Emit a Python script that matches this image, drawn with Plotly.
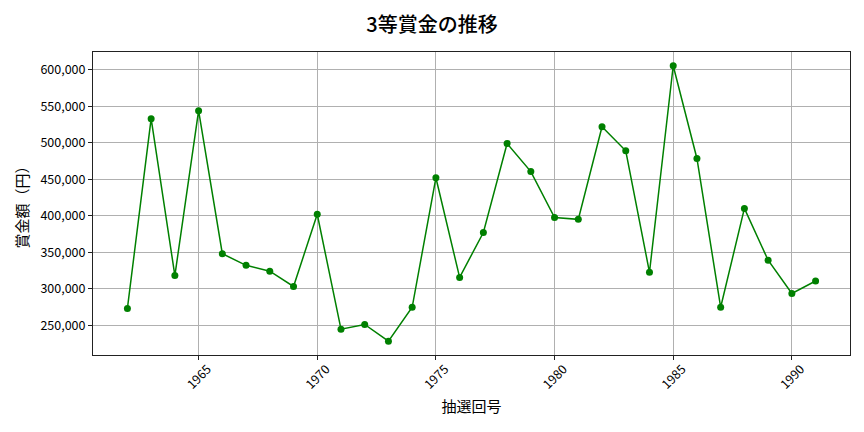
import plotly.graph_objects as go

draws = list(range(1962, 1992))
prize = [273000, 533000, 318000, 544000, 348000, 332000, 324000, 303000, 402000, 244500,
         251000, 228000, 274500, 452000, 315500, 377000, 499000, 460500, 397500, 395000,
         522000, 489000, 322500, 605500, 478500, 274500, 410000, 339000, 293500, 310500]

title = "3等賞金の推移"
xlabel = "抽選回号"
ylabel = "賞金額（円）"
x_ticks = [1965, 1970, 1975, 1980, 1985, 1990]
y_ticks = [250000, 300000, 350000, 400000, 450000, 500000, 550000, 600000]

font = "Noto Sans CJK JP"

fig = go.Figure(go.Scatter(
    x=draws, y=prize, mode="lines+markers",
    line=dict(color="#008000", width=1.5),
    marker=dict(color="#008000", size=7),
))

axis_common = dict(
    showline=True, linecolor="#222", linewidth=1, mirror=True,
    ticks="outside", ticklen=4, tickcolor="#222",
    showgrid=True, gridcolor="#b0b0b0", gridwidth=1, zeroline=False,
    tickfont=dict(family=font, size=12.5, color="#000"),
)

fig.update_layout(
    width=864, height=432,
    margin=dict(l=93, r=14, t=52, b=77),
    paper_bgcolor="white", plot_bgcolor="white",
    showlegend=False,
    title=dict(text=title, x=0.5, xanchor="center", y=0.942, yanchor="middle",
               font=dict(family=font, size=20, color="#000", weight=500)),
    font=dict(family=font),
)
fig.update_xaxes(**axis_common, range=[1960.55, 1992.45], tickvals=x_ticks,
                 tickangle=-45, ticklabelshift=9, ticklabelstandoff=-3,
                 title=dict(text=xlabel, font=dict(family=font, size=15, color="#000"), standoff=9))
fig.update_yaxes(**axis_common, range=[209125, 624375], tickvals=y_ticks,
                 tickformat=",",
                 title=dict(text=ylabel, font=dict(family=font, size=15, color="#000"), standoff=8))

fig.write_html("out.html", config={"displayModeBar": False},
               post_script="document.body.style.margin='0';document.body.style.overflow='hidden';")
